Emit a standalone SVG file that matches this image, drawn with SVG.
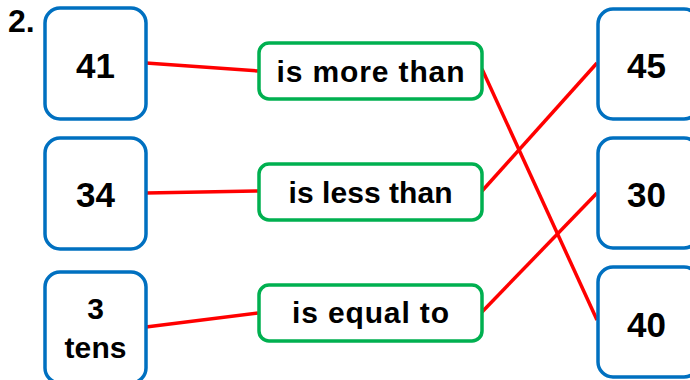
<svg xmlns="http://www.w3.org/2000/svg" width="690" height="380" viewBox="0 0 690 380">
<style>
.num{fill:#fff;stroke:#0070c0;stroke-width:3.5}
.rel{fill:#fff;stroke:#00b050;stroke-width:3.5}
.nt{font-family:"Liberation Sans",Arial,sans-serif;font-weight:bold;font-size:35px;fill:#000;text-anchor:middle}
.rt{font-family:"Liberation Sans",Arial,sans-serif;font-weight:bold;font-size:30px;fill:#000;text-anchor:middle}
.ln{stroke:#ff0000;stroke-width:3.5;fill:none;stroke-linecap:butt}
</style>
<rect width="690" height="380" fill="#fff"/>
<text x="8" y="32" font-family="Liberation Sans,Arial,sans-serif" font-weight="bold" font-size="32" fill="#000">2.</text>
<g id="connectors">
<line class="ln" x1="146" y1="63" x2="258" y2="71"/>
<line class="ln" x1="146" y1="193" x2="258" y2="191"/>
<line class="ln" x1="146" y1="327" x2="258" y2="313"/>
<line class="ln" x1="482" y1="69" x2="597" y2="320"/>
<line class="ln" x1="482" y1="191" x2="597" y2="63"/>
<line class="ln" x1="482" y1="312" x2="597" y2="193"/>
</g>
<g id="n41"><rect class="num" x="45" y="8" width="101" height="111" rx="15"/><text class="nt" x="95.5" y="78">41</text></g>
<g id="n34"><rect class="num" x="45" y="138" width="101" height="111" rx="15"/><text class="nt" x="95.5" y="207">34</text></g>
<g id="n3tens"><rect class="num" x="45" y="272" width="101" height="111" rx="15"/><text class="rt" x="95.5" y="319">3</text><text class="rt" x="95.5" y="358" textLength="62">tens</text></g>
<g id="more"><rect class="rel" x="259" y="43" width="223" height="56" rx="10"/><text class="rt" x="370.5" y="82" textLength="188">is more than</text></g>
<g id="less"><rect class="rel" x="259" y="164" width="223" height="56" rx="10"/><text class="rt" x="370.5" y="203" textLength="164">is less than</text></g>
<g id="equal"><rect class="rel" x="259" y="285" width="223" height="56" rx="10"/><text class="rt" x="370.5" y="323" textLength="157">is equal to</text></g>
<g id="n45"><rect class="num" x="598" y="9" width="101" height="110" rx="15"/><text class="nt" x="646.5" y="78">45</text></g>
<g id="n30"><rect class="num" x="598" y="138" width="101" height="110" rx="15"/><text class="nt" x="646.5" y="207">30</text></g>
<g id="n40"><rect class="num" x="598" y="267" width="101" height="110" rx="15"/><text class="nt" x="646.5" y="337">40</text></g>
</svg>
